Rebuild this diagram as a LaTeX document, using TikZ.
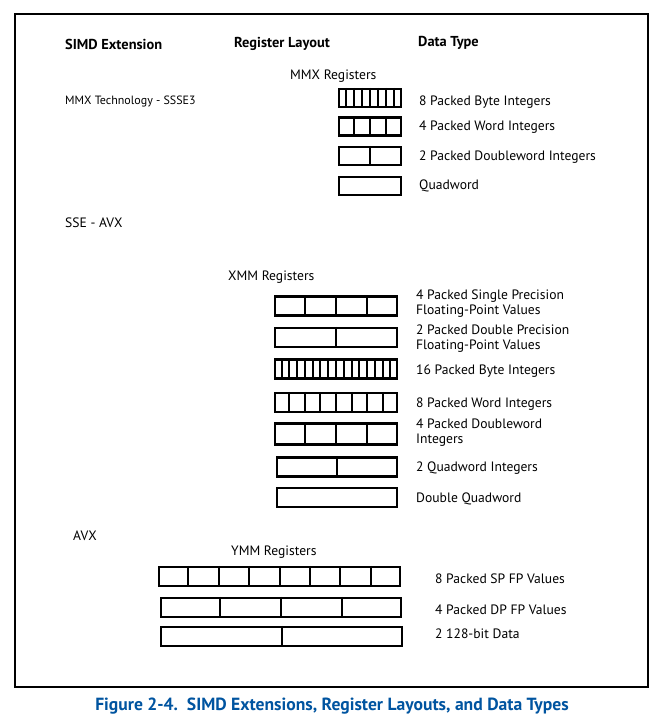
\documentclass[tikz,border=0pt]{standalone}
\usepackage{fontspec}
\setmainfont{PT Sans}
\usetikzlibrary{calc}
\definecolor{capblue}{RGB}{0,84,160}
% cut a register node into #2 equal cells
\newcommand{\splitreg}[2]{%
  \pgfmathtruncatemacro{\lastcut}{#2-1}
  \foreach \k in {1,...,\lastcut}
    \draw[cut] ($(#1.north west)!\k/#2!(#1.north east)$) -- ($(#1.south west)!\k/#2!(#1.south east)$);}
\begin{document}
\begin{tikzpicture}[x=1pt,y=-1pt,
	reg/.style={draw,line width=2.1pt,minimum height=19pt,inner sep=0pt},
	cut/.style={line width=2pt},
	lbl/.style={anchor=west,inner sep=0pt,yshift=-1.8pt,align=left,font=\fontsize{13.6}{15}\selectfont},
	head/.style={anchor=west,inner sep=0pt,yshift=-1.5pt,font=\fontsize{14.4}{16}\selectfont\bfseries}]
\useasboundingbox (0,0) rectangle (667,727);
\draw[line width=1.3pt] (15,14) rectangle (648,687);

% headings
\node[head] (hsimd) at (65,43) {SIMD Extension};
\node[head] (hlayout) at (234,42) {Register Layout};
\node[head] (htype) at (418,41) {Data Type};

% MMX
\node[lbl] (mmxtitle) at (290,74) {MMX Registers};
\node[lbl,font=\fontsize{12}{14}\selectfont] (mmxext) at (65,100) {MMX Technology - SSSE3};
\node[reg,minimum width=62pt,minimum height=18pt] (mmxb) at (370,98) {};
\node[reg,minimum width=62pt,minimum height=18pt] (mmxw) at (370,126.5) {};
\node[reg,minimum width=62pt,minimum height=18pt] (mmxd) at (370,156) {};
\node[reg,minimum width=62pt,minimum height=18pt] (mmxq) at (370,186) {};
\splitreg{mmxb}{8}
\splitreg{mmxw}{4}
\splitreg{mmxd}{2}
\node[lbl] (tmmxb) at (419,100) {8 Packed Byte Integers};
\node[lbl] (tmmxw) at (419,125) {4 Packed Word Integers};
\node[lbl] (tmmxd) at (419,155) {2 Packed Doubleword Integers};
\node[lbl] (tmmxq) at (419,184) {Quadword};

% SSE
\node[lbl] (sseext) at (65,221) {SSE - AVX};
\node[lbl] (xmmtitle) at (228,275) {XMM Registers};
\node[reg,minimum width=122pt] (xmmps) at (336,306) {};
\node[reg,minimum width=122pt] (xmmpd) at (336,337.5) {};
\node[reg,minimum width=122pt] (xmmb) at (336,369) {};
\node[reg,minimum width=122pt] (xmmw) at (336,402.5) {};
\node[reg,minimum width=122pt,minimum height=21pt] (xmmd) at (336,434) {};
\node[reg,minimum width=120pt] (xmmq) at (337,467) {};
\node[reg,minimum width=120pt] (xmmdq) at (337,497.5) {};
\splitreg{xmmps}{4}
\splitreg{xmmpd}{2}
\splitreg{xmmb}{16}
\splitreg{xmmw}{8}
\splitreg{xmmd}{4}
\splitreg{xmmq}{2}
\node[lbl] (txmmps) at (416,301.5) {4 Packed Single Precision\\Floating-Point Values};
\node[lbl] (txmmpd) at (416,336.5) {2 Packed Double Precision\\Floating-Point Values};
\node[lbl] (txmmb) at (416,369) {16 Packed Byte Integers};
\node[lbl] (txmmw) at (416,402) {8 Packed Word Integers};
\node[lbl] (txmmd) at (416,430.5) {4 Packed Doubleword\\Integers};
\node[lbl] (txmmq) at (416,466) {2 Quadword Integers};
\node[lbl] (txmmdq) at (416,497) {Double Quadword};

% AVX
\node[lbl] (avxext) at (73,534) {AVX};
\node[lbl] (ymmtitle) at (231,550) {YMM Registers};
\node[reg,minimum width=241pt] (ymmps) at (279.5,576.5) {};
\node[reg,minimum width=240pt] (ymmpd) at (281,607.5) {};
\node[reg,minimum width=241pt] (ymmdq) at (281.5,636.5) {};
\splitreg{ymmps}{8}
\splitreg{ymmpd}{4}
\splitreg{ymmdq}{2}
\node[lbl] (tymmps) at (435,577) {8 Packed SP FP Values};
\node[lbl] (tymmpd) at (435,608) {4 Packed DP FP Values};
\node[lbl] (tymmdq) at (435,632) {2 128-bit Data};

% caption
\node[font=\fontsize{17.6}{20}\selectfont\bfseries,text=capblue] (caption) at (332,706) {Figure 2-4.\ \ SIMD Extensions, Register Layouts, and Data Types};
\end{tikzpicture}
\end{document}
